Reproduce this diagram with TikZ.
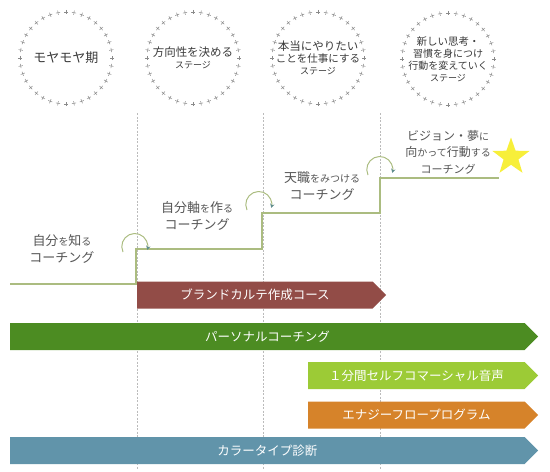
\documentclass[tikz,border=0pt]{standalone}
\usepackage{fontspec}
\setmainfont{Noto Sans CJK JP}
\usetikzlibrary{arrows.meta, shapes.geometric, shapes.symbols}

\newcommand{\smallkana}[1]{{\fontsize{10}{12}\selectfont #1}}

\begin{document}
\begin{tikzpicture}[x=1pt, y=-1pt,
    steplabel/.style={text=textColour, align=center, inner sep=0pt, font=\fontsize{13}{17}\selectfont},
    stagetext/.style={text=stageColour, align=center, inner sep=0pt},
    ringmark/.style={draw=ringColour, line width=0.5pt},
    stair/.style={draw=stairColour, line width=1.6pt},
    hop/.style={draw=stairColour, line width=1pt, -{Stealth[length=4pt, width=4.5pt, color=tipColour]}},
    guide/.style={draw=guideColour, line width=0.5pt, dash pattern=on 2pt off 1.5pt},
    course/.style={signal, signal to=east, signal pointer angle=90, minimum height=27, inner sep=0pt, anchor=west, text=white, font=\fontsize{12.5}{14}\selectfont}]

    % Colours
    \definecolor{textColour}{HTML}{555555}
    \definecolor{stageColour}{HTML}{3A3A3A}
    \definecolor{ringColour}{HTML}{8A8A8A}
    \definecolor{stairColour}{HTML}{ABBC80}
    \definecolor{tipColour}{HTML}{5F8C8C}
    \definecolor{guideColour}{HTML}{BBBBBB}
    \definecolor{starColour}{HTML}{F7EF3A}
    \definecolor{brandColour}{HTML}{924C47}
    \definecolor{personalColour}{HTML}{4C8C22}
    \definecolor{voiceColour}{HTML}{9CCB36}
    \definecolor{energyColour}{HTML}{D6832A}
    \definecolor{typeColour}{HTML}{6194AA}

    \useasboundingbox (0,0) rectangle (550,472);

    % Stages at the top
    \node[stagetext, font=\fontsize{13}{16}\selectfont] (stage1) at (66,58) {モヤモヤ期};
    \node[stagetext] (stage2) at (193,58)
        {\fontsize{11.5}{15}\selectfont 方向性を決める\\ \fontsize{9}{12}\selectfont ステージ};
    \node[stagetext] (stage3) at (318,58)
        {\fontsize{11.5}{16}\selectfont 本当にやりたい\\ \fontsize{10.5}{15}\selectfont ことを仕事にする\\ \fontsize{9}{12}\selectfont ステージ};
    \node[stagetext] (stage4) at (448,59)
        {\fontsize{10.5}{14}\selectfont 新しい思考・\\ 習慣を身につけ\\ 行動を変えていく\\ \fontsize{9}{12}\selectfont ステージ};

    % Rings of crosses
    \foreach \s in {stage1,stage2,stage3,stage4} {
        \foreach \a in {0,10,...,350} {
            \draw[ringmark] ([shift={(\a:46)}]\s.center) +(\a:2.2) -- +(\a+180:2.2)
                +(\a+90:2.2) -- +(\a+270:2.2);
        }
    }

    % Dashed guides
    \foreach \gx in {137,263,380}
        \draw[guide] (\gx,113) -- (\gx,470);

    % Staircase
    \coordinate (start) at (10,284);
    \coordinate (step1) at (136,249);
    \coordinate (step2) at (262,213);
    \coordinate (step3) at (380,178);
    \coordinate (finish) at (499,178);
    \draw[stair] (start) -| (step1) -| (step2) -| (step3) -- (finish);

    \node[star, star points=5, star point ratio=2.5, fill=starColour, minimum size=39, inner sep=0pt] (goal) at (511,157) {};

    % Hops up each step
    \coordinate (hop1) at (123,252);
    \coordinate (hop2) at (247,210);
    \coordinate (hop3) at (368,175);
    \foreach \h in {hop1,hop2,hop3}
        \draw[hop] (\h) arc[start angle=155, end angle=375, radius=13];

    % Step labels
    \node[steplabel] (know) at (62,249) {自分\smallkana{を}知\smallkana{る}\\コーチング};
    \node[steplabel] (axis) at (197,216) {自分軸\smallkana{を}作\smallkana{る}\\コーチング};
    \node[steplabel] (calling) at (322,186) {天職\smallkana{をみつける}\\コーチング};
    \node[steplabel, font=\fontsize{12}{16.5}\selectfont] (vision) at (448,152)
        {ビジョン・夢\smallkana{に}\\向\smallkana{かって}行動\smallkana{する}\\ \fontsize{11}{14}\selectfont コーチング};

    % Courses
    \node[course, fill=brandColour, minimum width=249] (brand) at (137,295) {ブランドカルテ作成コース};
    \node[course, fill=personalColour, minimum width=528] (personal) at (10,336.5) {パーソナルコーチング};
    \node[course, fill=voiceColour, minimum width=230] (voice) at (308,375.5) {１分間セルフコマーシャル音声};
    \node[course, fill=energyColour, minimum width=230] (energy) at (308,415) {エナジーフロープログラム};
    \node[course, fill=typeColour, minimum width=528] (colourtype) at (10,450.5) {カラータイプ診断};

\end{tikzpicture}
\end{document}
